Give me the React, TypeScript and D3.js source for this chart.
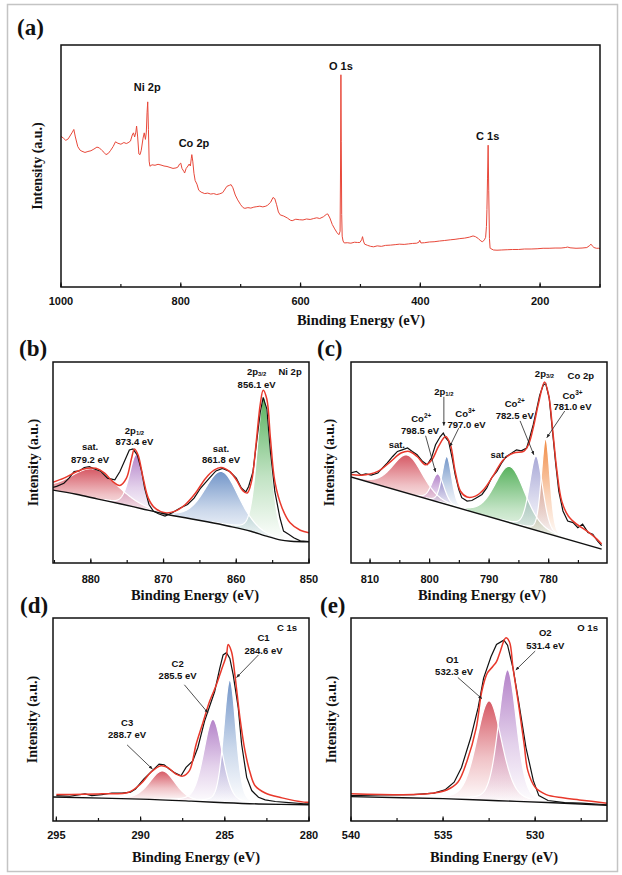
import React from 'react';
import * as d3 from 'd3';

type Pt = [number, number];
type Label = { text: string; sub?: string; sup?: string; e: number; t: number; big?: boolean };
type Arrow = [number, number, number, number];

// ---------------- (a) survey ----------------
const surveyTicks = [1000, 800, 600, 400, 200];
const surveyPoints: Pt[] = [
  [1000, 0.623], [996, 0.615], [992, 0.606], [988, 0.612], [984, 0.628], [981, 0.64], [978.6, 0.651], [976, 0.62],
  [972, 0.58], [968, 0.565], [965, 0.561], [960, 0.556], [955, 0.56], [950, 0.563], [945, 0.57], [940, 0.578],
  [936, 0.575], [932, 0.565], [928, 0.556], [925, 0.547], [921, 0.552], [917, 0.565], [913, 0.58], [909, 0.6],
  [905, 0.594], [900, 0.59], [895, 0.597], [891, 0.593], [888, 0.596], [884, 0.603], [881, 0.628], [879, 0.637],
  [877, 0.62], [875, 0.64], [873.8, 0.665], [872, 0.62], [870, 0.55], [868, 0.547], [866, 0.565], [863, 0.615],
  [861, 0.637], [859, 0.61], [857.5, 0.64], [856.3, 0.72], [855.2, 0.765], [854, 0.65], [852.8, 0.52], [851.5, 0.499],
  [848, 0.505], [843, 0.503], [838, 0.507], [833, 0.504], [828, 0.5], [823, 0.498], [818, 0.494], [813, 0.49],
  [808, 0.492], [805, 0.495], [802, 0.508], [800, 0.512], [798, 0.49], [795, 0.478], [793.6, 0.471], [791, 0.49],
  [788, 0.5], [786, 0.508], [784, 0.5], [782.5, 0.53], [781.6, 0.547], [780, 0.52], [778, 0.47], [776, 0.44],
  [773, 0.425], [770, 0.4], [766, 0.392], [760, 0.386], [755, 0.388], [750, 0.384], [745, 0.386], [740, 0.382],
  [735, 0.385], [730, 0.39], [726, 0.405], [723, 0.416], [719, 0.42], [716, 0.423], [713, 0.41], [709, 0.38],
  [705, 0.36], [700, 0.34], [696, 0.328], [693, 0.325], [688, 0.328], [683, 0.326], [678, 0.33], [673, 0.332],
  [668, 0.334], [663, 0.331], [658, 0.334], [655, 0.338], [650, 0.35], [646, 0.37], [643, 0.365], [640, 0.34],
  [637, 0.31], [634, 0.298], [628, 0.293], [622, 0.285], [617, 0.276], [614, 0.274], [608, 0.28], [602, 0.278],
  [596, 0.277], [590, 0.281], [584, 0.279], [578, 0.283], [573, 0.286], [568, 0.283], [562, 0.29], [557, 0.3],
  [554.6, 0.302], [551, 0.285], [547, 0.258], [543, 0.24], [539, 0.224], [536, 0.216], [534, 0.23], [533.2, 0.5],
  [532.6, 0.877], [532, 0.6], [531.3, 0.3], [530.5, 0.21], [529, 0.19], [527, 0.182], [522, 0.183], [516, 0.181],
  [510, 0.185], [505, 0.184], [501, 0.184], [498, 0.195], [496.5, 0.208], [495, 0.19], [493, 0.177], [488, 0.172],
  [483, 0.168], [478, 0.166], [472, 0.17], [465, 0.168], [458, 0.172], [450, 0.173], [442, 0.175], [435, 0.177],
  [427, 0.176], [420, 0.178], [413, 0.18], [406, 0.181], [402, 0.186], [401, 0.193], [399, 0.182], [393, 0.183],
  [385, 0.186], [377, 0.187], [368, 0.19], [360, 0.192], [350, 0.195], [342, 0.197], [334, 0.2], [326, 0.202],
  [318, 0.206], [312, 0.211], [308, 0.208], [303, 0.2], [299, 0.19], [296, 0.187], [293, 0.195], [291, 0.205],
  [289.6, 0.25], [288.8, 0.32], [287.8, 0.45], [286.8, 0.586], [285.8, 0.4], [284.6, 0.2], [283.5, 0.16],
  [282.5, 0.159], [278, 0.153], [272, 0.152], [264, 0.153], [255, 0.154], [246, 0.155], [236, 0.155], [226, 0.157],
  [215, 0.157], [205, 0.158], [195, 0.16], [185, 0.16], [175, 0.161], [165, 0.161], [158, 0.163], [154, 0.165],
  [150, 0.162], [140, 0.16], [130, 0.161], [122, 0.163], [118, 0.17], [115, 0.177], [113, 0.17], [110, 0.163],
  [106, 0.16], [102, 0.16], [100, 0.158],
];
const surveyLabels: Label[] = [
  { text: 'Ni 2p', e: 856, t: 0.827, big: true },
  { text: 'Co 2p', e: 778, t: 0.596, big: true },
  { text: 'O 1s', e: 532.6, t: 0.914, big: true },
  { text: 'C 1s', e: 287.5, t: 0.623, big: true },
];

// ---------------- (b) Ni 2p ----------------
const niTicks = [880, 870, 860, 850];
const niData: Pt[] = [
  [885.6, 0.373], [884.7, 0.381], [883.7, 0.397], [883.0, 0.422], [882.3, 0.455], [881.6, 0.458], [880.9, 0.475],
  [880.2, 0.479], [879.5, 0.468], [878.6, 0.455], [877.7, 0.422], [876.7, 0.414], [876.0, 0.455], [875.3, 0.512],
  [874.7, 0.562], [874.2, 0.567], [873.6, 0.537], [873.0, 0.455], [872.6, 0.373], [872.0, 0.291], [871.4, 0.258],
  [870.7, 0.245], [869.8, 0.233], [868.8, 0.25], [867.7, 0.274], [866.7, 0.291], [865.8, 0.323], [864.9, 0.373],
  [863.7, 0.422], [862.8, 0.458], [861.9, 0.471], [860.9, 0.455], [860.0, 0.422], [859.3, 0.373], [858.7, 0.353],
  [858.3, 0.381], [857.7, 0.455], [857.2, 0.603], [856.7, 0.75], [856.3, 0.824], [855.8, 0.767], [855.3, 0.553],
  [854.7, 0.356], [854.0, 0.225], [853.5, 0.159], [852.8, 0.143], [852.1, 0.126], [851.2, 0.11], [850.0, 0.107],
];
const niEnvelope: Pt[] = [
  [885.6, 0.397], [883.7, 0.422], [881.9, 0.455], [880.5, 0.471], [879.3, 0.471], [878.1, 0.447], [877.0, 0.406],
  [876.0, 0.386], [875.1, 0.422], [874.4, 0.521], [874.0, 0.567], [873.5, 0.537], [872.8, 0.422], [872.1, 0.323],
  [871.2, 0.274], [869.8, 0.25], [868.4, 0.258], [867.0, 0.291], [865.6, 0.348], [864.2, 0.422], [863.0, 0.463],
  [862.1, 0.475], [860.9, 0.455], [860.0, 0.414], [859.1, 0.36], [858.5, 0.348], [857.9, 0.406], [857.3, 0.586],
  [856.7, 0.791], [856.3, 0.86], [855.8, 0.816], [855.3, 0.619], [854.7, 0.406], [853.7, 0.274], [852.6, 0.2],
  [851.2, 0.163], [850.0, 0.151],
];
const niBackground: Pt[] = [
  [885.6, 0.365], [882, 0.342], [879, 0.318], [876, 0.295], [873, 0.27], [870, 0.245], [867, 0.225], [864, 0.205],
  [861, 0.183], [858, 0.158], [856, 0.135], [854, 0.115], [852.5, 0.108], [850, 0.105],
];
const niPeakCenters = [879.5, 873.7, 862.0, 856.2];
const niPeakHeights = [0.145, 0.265, 0.265, 0.69];
const niPeakWidths = [7.5, 2.3, 5.5, 2.2];
const niLabels: Label[] = [
  { text: 'sat.', e: 880.1, t: 0.578 }, { text: '879.2 eV', e: 880.1, t: 0.517 },
  { text: '2p', sub: '1/2', e: 874.0, t: 0.66 }, { text: '873.4 eV', e: 874.0, t: 0.603 },
  { text: 'sat.', e: 862.1, t: 0.57 }, { text: '861.8 eV', e: 862.1, t: 0.516 },
  { text: '2p', sub: '3/2', e: 857.2, t: 0.951 }, { text: '856.1 eV', e: 857.2, t: 0.887 },
  { text: 'Ni 2p', e: 852.6, t: 0.951 },
];

// ---------------- (c) Co 2p ----------------
const coTicks = [810, 800, 790, 780];
const coData: Pt[] = [
  [813.7, 0.465], [813.2, 0.448], [812.3, 0.456], [811.5, 0.437], [810.7, 0.443], [809.8, 0.437], [808.7, 0.448],
  [807.9, 0.473], [807.1, 0.498], [806.2, 0.53], [805.4, 0.555], [804.6, 0.563], [803.7, 0.572], [802.9, 0.555],
  [802.1, 0.539], [801.2, 0.506], [800.4, 0.489], [799.7, 0.522], [799.0, 0.588], [798.2, 0.629], [797.7, 0.646],
  [797.3, 0.624], [796.8, 0.605], [796.2, 0.522], [795.7, 0.44], [795.1, 0.366], [794.6, 0.325], [793.7, 0.308],
  [792.9, 0.311], [792.1, 0.325], [791.2, 0.341], [790.4, 0.374], [789.6, 0.423], [788.7, 0.456], [787.9, 0.498],
  [787.1, 0.53], [786.2, 0.547], [785.4, 0.563], [784.6, 0.558], [783.7, 0.572], [783.2, 0.621], [782.6, 0.687],
  [782.1, 0.753], [781.5, 0.835], [780.9, 0.885], [780.5, 0.893], [779.9, 0.819], [779.4, 0.671], [778.8, 0.489],
  [778.3, 0.358], [777.6, 0.259], [776.8, 0.209], [775.9, 0.201], [775.1, 0.176], [774.3, 0.193], [773.4, 0.152],
  [772.6, 0.143], [771.8, 0.11], [771.1, 0.086],
];
const coEnvelope: Pt[] = [
  [813.7, 0.443], [811.5, 0.437], [808.7, 0.456], [806.5, 0.506], [804.8, 0.547], [803.4, 0.555], [802.1, 0.53],
  [800.7, 0.489], [799.6, 0.514], [798.5, 0.58], [797.3, 0.629], [796.5, 0.588], [795.7, 0.456], [794.8, 0.357],
  [793.7, 0.328], [792.3, 0.333], [790.9, 0.366], [789.2, 0.44], [787.6, 0.514], [785.9, 0.547], [784.2, 0.555],
  [783.4, 0.588], [782.6, 0.671], [781.7, 0.794], [780.7, 0.901], [780.0, 0.835], [779.3, 0.654], [778.6, 0.456],
  [777.8, 0.308], [776.7, 0.234], [775.3, 0.193], [773.6, 0.16], [771.9, 0.119], [771.1, 0.094],
];
const coBackground: Pt[] = [[813.7, 0.432], [771.1, 0.069]];
const coPeakCenters = [803.7, 798.6, 797.1, 786.5, 782.1, 780.5];
const coPeakHeights = [0.19, 0.14, 0.24, 0.28, 0.37, 0.47];
const coPeakWidths = [6.0, 2.4, 1.9, 6.0, 2.6, 1.7];
const coLabels: Label[] = [
  { text: 'sat.', e: 805.5, t: 0.588 },
  { text: 'Co', sup: '2+', e: 801.4, t: 0.717 }, { text: '798.5 eV', e: 801.6, t: 0.659 },
  { text: '2p', sub: '1/2', e: 797.6, t: 0.855 },
  { text: 'Co', sup: '3+', e: 794.0, t: 0.745 }, { text: '797.0 eV', e: 793.8, t: 0.69 },
  { text: 'sat.', e: 788.4, t: 0.542 },
  { text: 'Co', sup: '2+', e: 785.7, t: 0.794 }, { text: '782.5 eV', e: 785.7, t: 0.736 },
  { text: '2p', sub: '3/2', e: 780.7, t: 0.942 },
  { text: 'Co 2p', e: 774.6, t: 0.934 },
  { text: 'Co', sup: '3+', e: 776.0, t: 0.832 }, { text: '781.0 eV', e: 776.0, t: 0.778 },
];
const coArrows: Arrow[] = [
  [800.67, 0.633, 799.0, 0.453],
  [797.6, 0.827, 797.6, 0.684],
  [795.1, 0.671, 796.6, 0.58],
  [784.8, 0.707, 782.5, 0.539],
  [777.3, 0.756, 780.3, 0.624],
];

// ---------------- (d) C 1s ----------------
const cTicks = [295, 290, 285, 280];
const cData: Pt[] = [
  [295, 0.125], [294.2, 0.122], [293.3, 0.134], [292.9, 0.125], [292.3, 0.13], [291.7, 0.138], [291.1, 0.137],
  [290.6, 0.142], [290.3, 0.158], [289.8, 0.207], [289.3, 0.248], [288.9, 0.28], [288.6, 0.277], [288.3, 0.256],
  [288.0, 0.239], [287.6, 0.223], [287.3, 0.264], [286.9, 0.296], [286.6, 0.362], [286.2, 0.492], [285.9, 0.565],
  [285.6, 0.638], [285.3, 0.752], [285.1, 0.818], [284.9, 0.829], [284.7, 0.801], [284.5, 0.72], [284.2, 0.557],
  [284.0, 0.378], [283.7, 0.215], [283.4, 0.15], [283.0, 0.117], [282.6, 0.104], [282.0, 0.096], [281.2, 0.091],
  [280.3, 0.085], [280.0, 0.084],
];
const cEnvelope: Pt[] = [
  [295, 0.13], [292.3, 0.134], [290.7, 0.142], [290.0, 0.182], [289.4, 0.239], [288.8, 0.272], [288.4, 0.264],
  [287.9, 0.231], [287.5, 0.221], [287.1, 0.248], [286.7, 0.378], [286.3, 0.484], [285.9, 0.59], [285.5, 0.671],
  [285.2, 0.744], [284.9, 0.818], [284.8, 0.87], [284.6, 0.834], [284.4, 0.72], [284.1, 0.508], [283.8, 0.345],
  [283.5, 0.239], [283.2, 0.174], [282.6, 0.138], [281.6, 0.114], [280.3, 0.093], [280.0, 0.092],
];
const cBackground: Pt[] = [[295.2, 0.118], [290, 0.108], [287, 0.098], [285, 0.09], [283, 0.084], [280, 0.08]];
const cPeakCenters = [288.7, 285.7, 284.7];
const cPeakHeights = [0.143, 0.408, 0.606];
const cPeakWidths = [1.8, 1.3, 0.85];
const cLabels: Label[] = [
  { text: 'C 1s', e: 281.3, t: 0.951 },
  { text: 'C1', e: 282.7, t: 0.902 }, { text: '284.6 eV', e: 282.7, t: 0.842 },
  { text: 'C2', e: 287.8, t: 0.777 }, { text: '285.5 eV', e: 287.8, t: 0.717 },
  { text: 'C3', e: 290.8, t: 0.487 }, { text: '288.7 eV', e: 290.8, t: 0.427 },
];
const cArrows: Arrow[] = [
  [283.0, 0.818, 284.3, 0.707],
  [287.4, 0.671, 286.0, 0.533],
  [290.8, 0.375, 289.3, 0.256],
];

// ---------------- (e) O 1s ----------------
const oTicks = [540, 535, 530];
const oData: Pt[] = [
  [540, 0.125], [538.4, 0.129], [536.6, 0.13], [535.5, 0.137], [534.9, 0.153], [534.4, 0.191], [534.0, 0.264],
  [533.5, 0.41], [533.1, 0.557], [532.8, 0.704], [532.4, 0.809], [532.1, 0.87], [531.7, 0.891], [531.5, 0.866],
  [531.2, 0.752], [530.9, 0.59], [530.5, 0.362], [530.1, 0.199], [529.8, 0.125], [529.3, 0.101], [528.4, 0.091],
  [527.5, 0.088], [526.1, 0.08],
];
const oEnvelope: Pt[] = [
  [540, 0.134], [536.6, 0.13], [535.5, 0.138], [534.8, 0.153], [534.2, 0.191], [533.7, 0.296], [533.2, 0.459],
  [532.9, 0.638], [532.6, 0.728], [532.3, 0.761], [532.1, 0.785], [531.9, 0.834], [531.6, 0.902], [531.4, 0.883],
  [531.2, 0.752], [530.9, 0.573], [530.6, 0.378], [530.4, 0.248], [530.0, 0.166], [529.4, 0.13], [528.5, 0.114],
  [527.6, 0.104], [526.1, 0.088],
];
const oBackground: Pt[] = [[540, 0.12], [535, 0.11], [532, 0.1], [529, 0.09], [526.1, 0.077]];
const oPeakCenters = [532.5, 531.5];
const oPeakHeights = [0.49, 0.647];
const oPeakWidths = [1.6, 1.15];
const oLabels: Label[] = [
  { text: 'O 1s', e: 527.15, t: 0.951 },
  { text: 'O2', e: 529.45, t: 0.927 }, { text: '531.4 eV', e: 529.45, t: 0.866 },
  { text: 'O1', e: 534.5, t: 0.796 }, { text: '532.3 eV', e: 534.4, t: 0.736 },
];
const oArrows: Arrow[] = [
  [530.0, 0.837, 531.05, 0.744],
  [534.2, 0.707, 532.9, 0.603],
];

// ---------------- styles ----------------
const SANS = "'Liberation Sans', Arial, Helvetica, sans-serif";
const SERIF = "'Liberation Serif', 'Times New Roman', Times, serif";
const RED = '#e8382b';
const C_RED = '#d4505c';
const C_PURPLE = '#b07cc6';
const C_BLUE = '#6b90c6';
const C_GREEN = '#4fae55';
const C_LAV = '#a3a3d4';
const C_ORANGE = '#f0843a';

function pv(e: number, c: number, w: number, eta = 0.25) {
  const d = (e - c) / w;
  const g = Math.exp(-4 * Math.LN2 * d * d);
  const l = 1 / (1 + 4 * d * d);
  return eta * l + (1 - eta) * g;
}

type Box = { x0: number; x1: number; y0: number; y1: number };

interface PanelSpec {
  id: string;
  box: Box;
  domain: [number, number];
  ticks: number[];
  minor: number;
  letter: string;
  letterX: number;
  letterY: number;
  tickY: number;
  titleX: number;
  titleY: number;
  yTitleX: number;
}

function LabelText({ l, x, y, size }: { l: Label; x: number; y: number; size: number }) {
  return (
    <text x={x} y={y} textAnchor="middle" dominantBaseline="central" fontFamily={SANS} fontWeight="bold"
      fontSize={size} fill="#111">
      {l.text}
      {l.sub ? <tspan fontSize={size * 0.62} dy={size * 0.25}>{l.sub}</tspan> : null}
      {l.sup ? <tspan fontSize={size * 0.68} dy={-size * 0.38}>{l.sup}</tspan> : null}
    </text>
  );
}

function Panel(props: {
  spec: PanelSpec;
  data?: Pt[];
  envelope?: Pt[];
  background?: Pt[];
  centers?: number[];
  heights?: number[];
  widths?: number[];
  colors?: string[];
  labels: Label[];
  arrows?: Arrow[];
  survey?: boolean;
}) {
  const { spec } = props;
  const { box } = spec;
  const x = d3.scaleLinear().domain(spec.domain).range([box.x0, box.x1]);
  const y = d3.scaleLinear().domain([0, 1]).range([box.y1, box.y0]);
  const line = d3.line<Pt>().x((d) => x(d[0])).y((d) => y(d[1]));
  const smooth = d3.line<Pt>().x((d) => x(d[0])).y((d) => y(d[1])).curve(d3.curveCatmullRom.alpha(0.5));

  const lo = Math.min(spec.domain[0], spec.domain[1]);
  const hi = Math.max(spec.domain[0], spec.domain[1]);
  const minorTicks = d3.range(Math.ceil(lo / spec.minor) * spec.minor, hi + 1e-6, spec.minor);

  let comps: { area: string; top: string; color: string }[] = [];
  if (props.background && props.centers) {
    const bg = props.background;
    const bgS = d3.scaleLinear().domain(bg.map((d) => d[0])).range(bg.map((d) => d[1])).clamp(true);
    const es = d3.range(0, 901).map((i) => hi - ((hi - lo) * i) / 900);
    comps = props.centers.map((c, i) => {
      const pts = es
        .map((e) => [e, bgS(e), bgS(e) + props.heights![i] * pv(e, c, props.widths![i])] as [number, number, number])
        .filter((d) => d[2] - d[1] > 0.004);
      const area = d3.area<[number, number, number]>().x((d) => x(d[0])).y0((d) => y(d[1])).y1((d) => y(d[2]))(pts) || '';
      const top = d3.line<[number, number, number]>().x((d) => x(d[0])).y((d) => y(d[2]))(pts) || '';
      return { area, top, color: props.colors![i] };
    });
  }

  const clipId = `clip-${spec.id}`;
  return (
    <g>
      <defs>
        <clipPath id={clipId}>
          <rect x={box.x0} y={box.y0} width={box.x1 - box.x0} height={box.y1 - box.y0} />
        </clipPath>
        {comps.map((c, i) => (
          <linearGradient key={i} id={`grad-${spec.id}-${i}`} x1="0" y1="0" x2="0" y2="1">
            <stop offset="0" stopColor={c.color} stopOpacity={0.95} />
            <stop offset="0.55" stopColor={c.color} stopOpacity={0.35} />
            <stop offset="1" stopColor={c.color} stopOpacity={0.0} />
          </linearGradient>
        ))}
      </defs>
      <g clipPath={`url(#${clipId})`}>
        {comps.map((c, i) => (
          <path key={`a${i}`} d={c.area} fill={`url(#grad-${spec.id}-${i})`} stroke="none" />
        ))}
        {comps.map((c, i) => (
          <path key={`t${i}`} d={c.top} fill="none" stroke="#ffffff" strokeWidth={1.2} />
        ))}
        {props.survey && props.data ? (
          <path d={line(props.data) || ''} fill="none" stroke="#e8483a" strokeWidth={1} />
        ) : null}
        {!props.survey && props.data ? (
          <path d={line(props.data) || ''} fill="none" stroke="#111" strokeWidth={1.2} />
        ) : null}
        {props.envelope ? (
          <path d={smooth(props.envelope) || ''} fill="none" stroke={RED} strokeWidth={1.5} />
        ) : null}
        {props.background ? (
          <path d={smooth(props.background) || ''} fill="none" stroke="#111" strokeWidth={1.4} />
        ) : null}
      </g>
      {(props.arrows || []).map((a, i) => (
        <line key={`ar${i}`} x1={x(a[0])} y1={y(a[1])} x2={x(a[2])} y2={y(a[3])} stroke="#222" strokeWidth={0.8}
          markerEnd="url(#arrowhead)" />
      ))}
      {props.labels.map((l, i) => (
        <LabelText key={`l${i}`} l={l} x={x(l.e)} y={y(l.t)} size={l.big ? 11 : 9.5} />
      ))}
      {/* frame */}
      <rect x={box.x0} y={box.y0} width={box.x1 - box.x0} height={box.y1 - box.y0} fill="none" stroke="#111"
        strokeWidth={1.5} />
      {minorTicks.map((t, i) => (
        <line key={`mt${i}`} x1={x(t)} x2={x(t)} y1={box.y1} y2={box.y1 - 3} stroke="#111" strokeWidth={1.2} />
      ))}
      {spec.ticks.map((t, i) => (
        <g key={`tk${i}`}>
          <line x1={x(t)} x2={x(t)} y1={box.y1} y2={box.y1 - 4.5} stroke="#111" strokeWidth={1.2} />
          <text x={x(t)} y={spec.tickY} textAnchor="middle" fontFamily={SANS} fontWeight="bold" fontSize={11}
            fill="#111">
            {t}
          </text>
        </g>
      ))}
      <text x={spec.titleX} y={spec.titleY} textAnchor="middle" fontFamily={SERIF} fontWeight="bold" fontSize={14.5}
        fill="#111">
        Binding Energy (eV)
      </text>
      <text transform={`translate(${spec.yTitleX},${(box.y0 + box.y1) / 2}) rotate(-90)`} textAnchor="middle"
        dominantBaseline="central" fontFamily={SERIF} fontWeight="bold" fontSize={14} fill="#111">
        Intensity (a.u.)
      </text>
      <text x={spec.letterX} y={spec.letterY} fontFamily={SERIF} fontWeight="bold" fontSize={23} fill="#111">
        {spec.letter}
      </text>
    </g>
  );
}

const specA: PanelSpec = { id: 'a', box: { x0: 61, x1: 600, y0: 45, y1: 287 }, domain: [1000, 100], ticks: surveyTicks, minor: 100, letter: '(a)', letterX: 17, letterY: 35, tickY: 305, titleX: 361, titleY: 325, yTitleX: 37 };
const specB: PanelSpec = { id: 'b', box: { x0: 53, x1: 309, y0: 362, y1: 563 }, domain: [885.2, 850], ticks: niTicks, minor: 5, letter: '(b)', letterX: 19, letterY: 356, tickY: 583, titleX: 195, titleY: 600, yTitleX: 33 };
const specC: PanelSpec = { id: 'c', box: { x0: 351, x1: 607, y0: 362, y1: 563 }, domain: [813.2, 770.2], ticks: coTicks, minor: 5, letter: '(c)', letterX: 317, letterY: 356, tickY: 583, titleX: 482, titleY: 600, yTitleX: 329 };
const specD: PanelSpec = { id: 'd', box: { x0: 53, x1: 309, y0: 618, y1: 821 }, domain: [295.2, 280], ticks: cTicks, minor: 2.5, letter: '(d)', letterX: 20, letterY: 613, tickY: 839, titleX: 196, titleY: 862, yTitleX: 32 };
const specE: PanelSpec = { id: 'e', box: { x0: 351, x1: 607, y0: 618, y1: 821 }, domain: [540, 526.1], ticks: oTicks, minor: 2.5, letter: '(e)', letterX: 320, letterY: 613, tickY: 839, titleX: 494, titleY: 862, yTitleX: 331 };

export default function App() {
  return (
    <svg width={622} height={875} viewBox="0 0 622 875" style={{ position: 'absolute', left: 0, top: 0, background: '#fff' }}>
      <defs>
        <marker id="arrowhead" viewBox="0 0 10 10" refX="9" refY="5" markerWidth="5" markerHeight="5" orient="auto">
          <path d="M0,1 L10,5 L0,9 z" fill="#222" />
        </marker>
      </defs>
      <rect x={0} y={0} width={622} height={875} fill="#fff" />
      <rect x={7.5} y={4.5} width={610} height={867} fill="none" stroke="#c4c4c4" strokeWidth={1.5} />
      <Panel spec={specA} data={surveyPoints} labels={surveyLabels} survey />
      <Panel spec={specB} data={niData} envelope={niEnvelope} background={niBackground} centers={niPeakCenters}
        heights={niPeakHeights} widths={niPeakWidths} colors={[C_RED, C_PURPLE, C_BLUE, C_GREEN]} labels={niLabels} />
      <Panel spec={specC} data={coData} envelope={coEnvelope} background={coBackground} centers={coPeakCenters}
        heights={coPeakHeights} widths={coPeakWidths} colors={[C_RED, C_PURPLE, C_BLUE, C_GREEN, C_LAV, C_ORANGE]}
        labels={coLabels} arrows={coArrows} />
      <Panel spec={specD} data={cData} envelope={cEnvelope} background={cBackground} centers={cPeakCenters}
        heights={cPeakHeights} widths={cPeakWidths} colors={[C_RED, C_PURPLE, C_BLUE]} labels={cLabels} arrows={cArrows} />
      <Panel spec={specE} data={oData} envelope={oEnvelope} background={oBackground} centers={oPeakCenters}
        heights={oPeakHeights} widths={oPeakWidths} colors={[C_RED, C_PURPLE]} labels={oLabels} arrows={oArrows} />
    </svg>
  );
}
